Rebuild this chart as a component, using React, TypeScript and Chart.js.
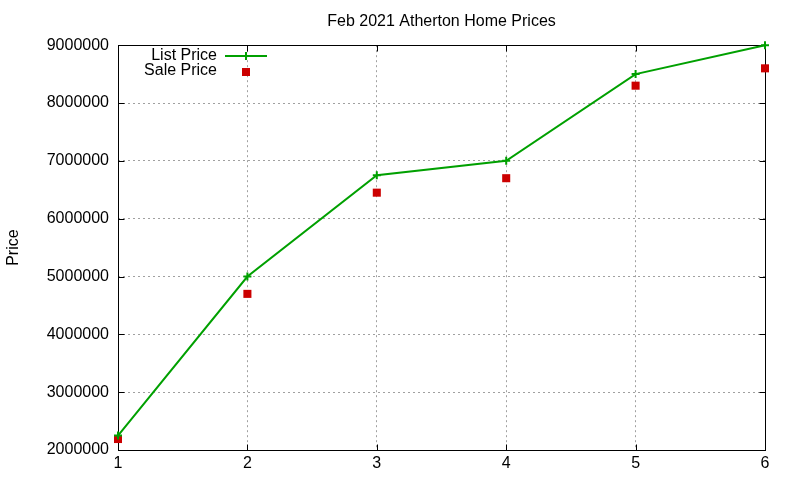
import React, { useEffect, useRef } from 'react';
import { Chart, registerables } from 'chart.js';

Chart.register(...registerables);

// values
const months = [1, 2, 3, 4, 5, 6];
const listPrices = [2250000, 5000000, 6750000, 7000000, 8500000, 9000000];
const salePrices = [2190000, 4700000, 6450000, 6700000, 8300000, 8600000];
const seriesLabels = ['List Price', 'Sale Price'];
const chartTitle = 'Feb 2021 Atherton Home Prices';
const yTitle = 'Price';

const FONT = '"Liberation Sans", Arial, sans-serif';
const GREEN = '#00a000';
const RED = '#cc0000';

// gnuplot style frame: solid border with inward ticks on all sides
const framePlugin = {
  id: 'frame',
  beforeDatasetsDraw(chart: any) {
    const { ctx, chartArea: a, scales } = chart;
    const l = Math.round(a.left) + 0.5;
    const r = Math.round(a.right) + 0.5;
    const t = Math.round(a.top) + 0.5;
    const b = Math.round(a.bottom) + 0.5;
    ctx.save();
    ctx.strokeStyle = '#000';
    ctx.lineWidth = 1;
    ctx.setLineDash([]);
    ctx.strokeRect(l, t, r - l, b - t);
    ctx.beginPath();
    scales.y.ticks.forEach((tk: any) => {
      const y = Math.round(scales.y.getPixelForValue(tk.value)) + 0.5;
      ctx.moveTo(l, y);
      ctx.lineTo(l + 6, y);
      ctx.moveTo(r, y);
      ctx.lineTo(r - 6, y);
    });
    scales.x.ticks.forEach((tk: any) => {
      const x = Math.round(scales.x.getPixelForValue(tk.value)) + 0.5;
      ctx.moveTo(x, b);
      ctx.lineTo(x, b - 6);
      ctx.moveTo(x, t);
      ctx.lineTo(x, t + 6);
    });
    ctx.stroke();
    ctx.restore();
  },
};

// key inside the plot, top left
const keyPlugin = {
  id: 'key',
  afterDraw(chart: any) {
    const { ctx } = chart;
    const ds = chart.data.datasets;
    ctx.save();
    ctx.font = `16px ${FONT}`;
    ctx.textAlign = 'right';
    ctx.textBaseline = 'middle';
    ctx.fillStyle = '#000';
    ctx.fillText(ds[0].label, 217, 56);
    ctx.fillText(ds[1].label, 217, 71);
    // list price sample: line with a plus
    ctx.strokeStyle = GREEN;
    ctx.lineWidth = 2;
    ctx.beginPath();
    ctx.moveTo(225, 56);
    ctx.lineTo(267, 56);
    ctx.moveTo(246, 52);
    ctx.lineTo(246, 60);
    ctx.stroke();
    // sale price sample: square
    ctx.fillStyle = RED;
    ctx.fillRect(242, 68, 8, 8);
    ctx.restore();
  },
};

const App: React.FC = () => {
  const canvasRef = useRef<HTMLCanvasElement>(null);
  const chartRef = useRef<Chart | null>(null);

  useEffect(() => {
    document.body.style.margin = '0';
    if (!canvasRef.current) return;
    if (chartRef.current) chartRef.current.destroy();

    chartRef.current = new Chart(canvasRef.current, {
      type: 'scatter',
      data: {
        datasets: [
          {
            label: seriesLabels[0],
            data: months.map((m, i) => ({ x: m, y: listPrices[i] })),
            showLine: true,
            borderColor: GREEN,
            backgroundColor: GREEN,
            borderWidth: 2,
            pointStyle: 'cross',
            pointRadius: 4,
            pointBorderWidth: 2,
            clip: false,
          },
          {
            label: seriesLabels[1],
            data: months.map((m, i) => ({ x: m, y: salePrices[i] })),
            showLine: false,
            borderColor: RED,
            backgroundColor: RED,
            pointStyle: 'rect',
            pointRadius: 5.7,
            pointBorderWidth: 0,
            clip: false,
          },
        ],
      },
      options: {
        responsive: false,
        animation: false,
        layout: { padding: { left: 0, right: 35, top: 0, bottom: 0 } },
        plugins: {
          legend: { display: false },
          tooltip: { enabled: false },
          title: {
            display: true,
            text: chartTitle,
            fullSize: false,
            color: '#000',
            font: { family: FONT, size: 16, weight: 'normal', lineHeight: 1.2 },
            padding: { top: 12, bottom: 14 },
          },
        },
        scales: {
          x: {
            type: 'linear',
            min: 1,
            max: 6,
            afterFit: (s: any) => {
              s.height = 30;
            },
            ticks: {
              stepSize: 1,
              color: '#000',
              padding: 4,
              font: { family: FONT, size: 16 },
            },
            grid: { color: '#a0a0a0', lineWidth: 1, drawTicks: false },
            border: { display: false, dash: [2, 3] },
          },
          y: {
            type: 'linear',
            min: 2000000,
            max: 9000000,
            afterFit: (s: any) => {
              s.width = 118;
            },
            title: {
              display: true,
              text: yTitle,
              color: '#000',
              font: { family: FONT, size: 16 },
              padding: { top: 4, bottom: 0 },
            },
            ticks: {
              stepSize: 1000000,
              color: '#000',
              padding: 9,
              font: { family: FONT, size: 16 },
              callback: (v: any) => String(v),
            },
            grid: { color: '#a0a0a0', lineWidth: 1, drawTicks: false },
            border: { display: false, dash: [2, 3] },
          },
        },
      },
      plugins: [framePlugin, keyPlugin],
    });

    return () => {
      if (chartRef.current) {
        chartRef.current.destroy();
        chartRef.current = null;
      }
    };
  }, []);

  return (
    <div style={{ width: 800, height: 480, background: '#fff' }}>
      <canvas ref={canvasRef} width={800} height={480} />
    </div>
  );
};

export default App;
